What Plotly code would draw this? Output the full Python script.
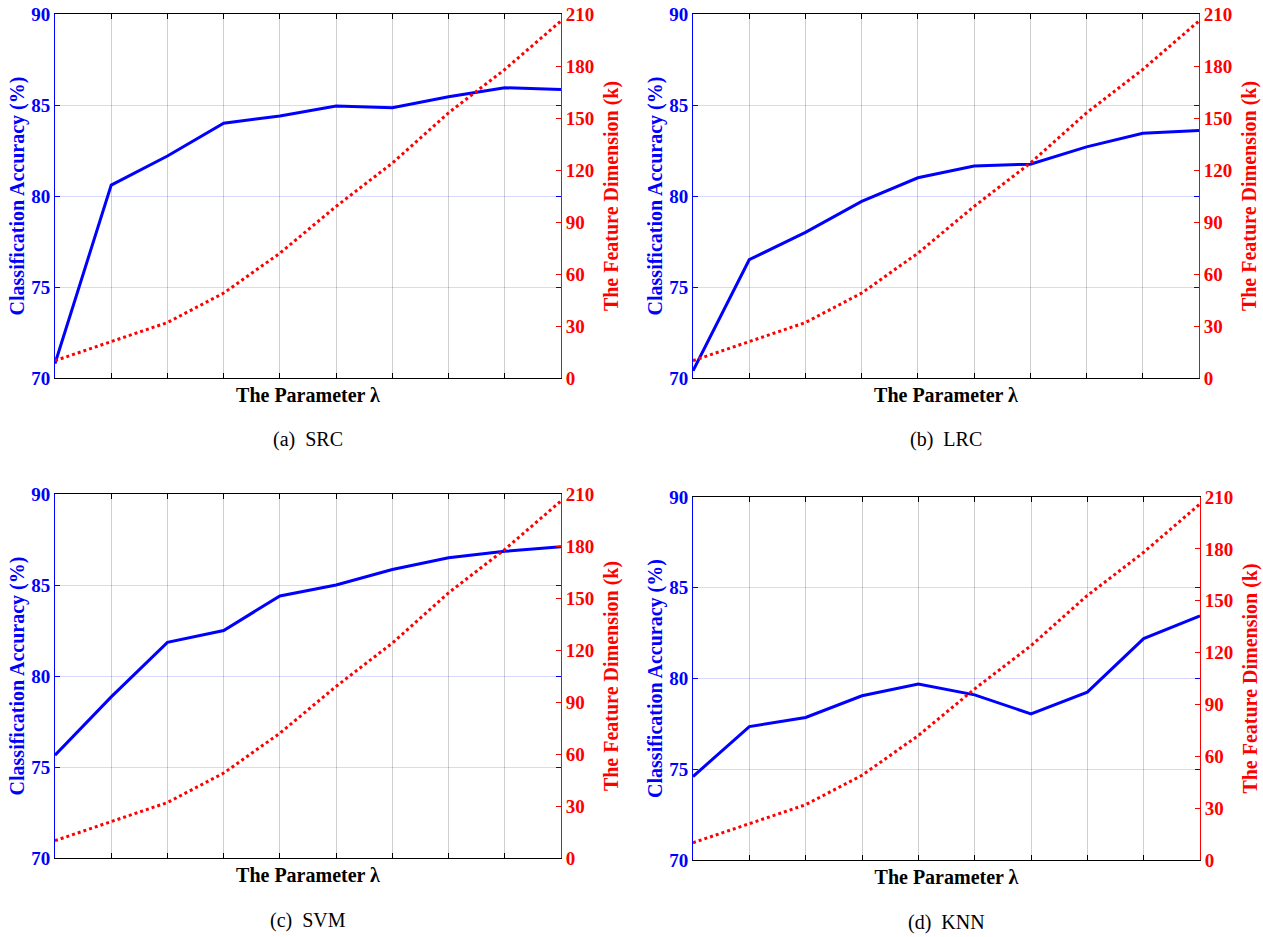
import plotly.graph_objects as go

W, H = 1263, 937

lam_index = [1, 2, 3, 4, 5, 6, 7, 8, 9, 10]
feature_dim = [10, 21, 32, 49, 72, 99, 124, 153, 178, 206]
acc_src = [70.8, 80.6, 82.2, 84.0, 84.4, 84.95, 84.85, 85.45, 85.95, 85.85]
acc_lrc = [70.4, 76.5, 78.0, 79.7, 81.0, 81.65, 81.75, 82.7, 83.45, 83.6]
acc_svm = [75.65, 78.85, 81.85, 82.5, 84.4, 85.0, 85.85, 86.5, 86.85, 87.1]
acc_knn = [74.6, 77.35, 77.85, 79.05, 79.7, 79.1, 78.05, 79.25, 82.2, 83.45]

acc_ticks = [70, 75, 80, 85, 90]
dim_ticks = [0, 30, 60, 90, 120, 150, 180, 210]

panels = [
    ("(a)\u00a0\u00a0SRC", acc_src, (55, 561, 14, 378)),
    ("(b)\u00a0\u00a0LRC", acc_lrc, (693, 1199, 14, 378)),
    ("(c)\u00a0\u00a0SVM", acc_svm, (55, 561, 494, 858)),
    ("(d)\u00a0\u00a0KNN", acc_knn, (693, 1200, 497, 860)),
]

FONT = "Liberation Serif, Times New Roman, serif"
BLUE = "#0000ff"
RED = "#ff0000"
TS = 19   # tick font size
AS = 20   # axis title size

fig = go.Figure()
layout = dict(
    template="none",
    width=W, height=H,
    margin=dict(l=0, r=0, t=0, b=0, autoexpand=False),
    paper_bgcolor="white", plot_bgcolor="white",
    showlegend=False,
    font=dict(family=FONT, size=AS, color="black"),
)
annotations = []

for i, (cap, acc, (x0, x1, y0, y1)) in enumerate(panels):
    n = i + 1
    xa = "x" if n == 1 else f"x{n}"
    ya = f"y{2*n-1}" if n > 1 else "y"
    yb = f"y{2*n}"
    xdom = [x0 / W, x1 / W]
    ydom = [1 - y1 / H, 1 - y0 / H]

    fig.add_trace(go.Scatter(x=lam_index, y=feature_dim, mode="lines",
                             line=dict(color=RED, width=3, dash="dot"),
                             xaxis=xa, yaxis=yb))
    fig.add_trace(go.Scatter(x=lam_index, y=acc, mode="lines",
                             line=dict(color=BLUE, width=3),
                             xaxis=xa, yaxis=ya))

    xkey = "xaxis" if n == 1 else f"xaxis{n}"
    yakey = "yaxis" if n == 1 else f"yaxis{2*n-1}"
    ybkey = f"yaxis{2*n}"

    layout[xkey] = dict(
        domain=xdom, anchor=ya, range=[1, 10], automargin=False,
        tickvals=lam_index, showticklabels=False,
        ticks="inside", ticklen=5, tickcolor="black",
        showline=True, linecolor="black", linewidth=1, mirror="ticks",
        showgrid=True, gridcolor="rgba(150,150,150,0.45)", gridwidth=1,
        zeroline=False,
        title=dict(text="<b>The Parameter \u03bb</b>",
                   font=dict(family=FONT, size=AS, color="black"), standoff=9),
    )
    layout[yakey] = dict(
        domain=ydom, anchor=xa, range=[70, 90], automargin=False,
        tickvals=acc_ticks, ticks="inside", ticklen=5, tickcolor=BLUE,
        tickfont=dict(family=FONT, size=TS, color=BLUE, weight="bold"),
        ticklabeloverflow="allow",
        showline=True, linecolor=BLUE, linewidth=1, mirror="ticks",
        showgrid=True, gridcolor="rgba(0,0,255,0.15)", gridwidth=1,
        zeroline=False,
        title=dict(text="<b>Classification Accuracy (%)</b>",
                   font=dict(family=FONT, size=AS, color=BLUE), standoff=1),
    )
    layout[ybkey] = dict(
        domain=ydom, anchor=xa, overlaying=ya, side="right", range=[0, 210],
        automargin=False,
        tickvals=dim_ticks, ticks="inside", ticklen=5, tickcolor=RED,
        tickfont=dict(family=FONT, size=TS, color=RED, weight="bold"),
        ticklabeloverflow="allow",
        showline=True, linecolor=RED, linewidth=1,
        showgrid=False, zeroline=False,
        title=dict(text="<b>The Feature Dimension (k)</b>",
                   font=dict(family=FONT, size=AS, color=RED), standoff=10),
    )
    annotations.append(dict(
        text=cap, xref="paper", yref="paper",
        x=(x0 + x1) / 2 / W, y=1 - (y1 + 62) / H,
        xanchor="center", yanchor="middle", showarrow=False,
        font=dict(family=FONT, size=AS, color="black"),
    ))

layout["annotations"] = annotations
fig.update_layout(**layout)
fig.write_html("out.html",
               config={"displayModeBar": False},
               post_script="document.body.style.margin='0';document.body.style.overflow='hidden';")
